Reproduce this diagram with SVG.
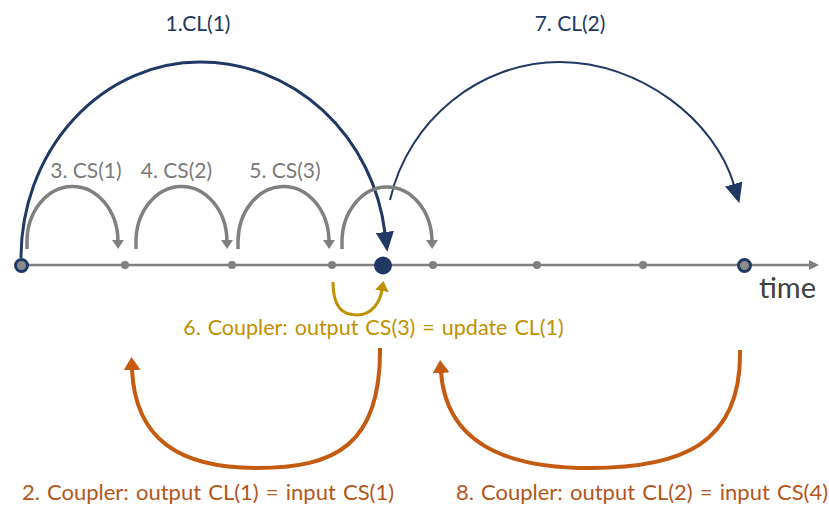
<svg xmlns="http://www.w3.org/2000/svg" width="829" height="506" viewBox="0 0 829 506">
  <style>
    .lbl { font-family: Lato, "Open Sans", "Liberation Sans", sans-serif; font-size: 21px; }
    .long { font-size: 21.5px; word-spacing: 1.5px; }
    .navy-t { fill: #203864; }
    .gray-t { fill: #7a7a7a; }
    .gold-t { fill: #BF9000; }
    .orange-t { fill: #B4561A; font-size: 22px; }
    .axis { stroke: #7f7f7f; stroke-width: 2.5; fill: none; }
    .cl { stroke: #203864; fill: none; }
    .cs { stroke: #808080; stroke-width: 3.5; fill: none; marker-end: url(#grayHead); }
    .upd { stroke: #BF9000; stroke-width: 3; fill: none; marker-end: url(#goldHead); }
    .cpl { stroke: #C55A11; stroke-width: 4; fill: none; marker-end: url(#orangeHead); }
    .dot { fill: #7f7f7f; }
    .ring { fill: #8c8c8c; stroke: #203864; stroke-width: 3; }
  </style>
  <defs>
    <marker id="navyHead" markerUnits="userSpaceOnUse" viewBox="0 0 20 18" markerWidth="20" markerHeight="18" refX="1" refY="9" orient="auto">
      <path d="M0,0 L20,9 L0,18 z" fill="#203864"/>
    </marker>
    <marker id="grayHead" markerUnits="userSpaceOnUse" viewBox="0 0 9 12" markerWidth="9" markerHeight="12" refX="1" refY="6" orient="auto">
      <path d="M0,0 L9,6 L0,12 z" fill="#808080"/>
    </marker>
    <marker id="goldHead" markerUnits="userSpaceOnUse" viewBox="0 0 10 14" markerWidth="10" markerHeight="14" refX="1" refY="7" orient="auto">
      <path d="M0,0 L10,7 L0,14 z" fill="#BF9000"/>
    </marker>
    <marker id="orangeHead" markerUnits="userSpaceOnUse" viewBox="0 0 13 17" markerWidth="13" markerHeight="17" refX="1" refY="8.5" orient="auto">
      <path d="M0,0 L13,8.5 L0,17 z" fill="#C55A11"/>
    </marker>
    <marker id="axisHead" markerUnits="userSpaceOnUse" viewBox="0 0 10 10" markerWidth="10" markerHeight="10" refX="1" refY="5" orient="auto">
      <path d="M0,0 L10,5 L0,10 z" fill="#7f7f7f"/>
    </marker>
  </defs>

  <!-- time axis -->
  <g id="axis">
    <line class="axis" x1="21" y1="265" x2="810" y2="265" marker-end="url(#axisHead)"/>
    <text class="lbl" x="759" y="298" style="font-size:29px" fill="#404040">time</text>
  </g>

  <g id="connectors">
    <!-- coarse steps -->
    <path class="cl" stroke-width="3" marker-end="url(#navyHead)" d="M21,258 A179,196 0 0 1 200,62 A186,196 0 0 1 385,233"/>
    <path class="cl" stroke-width="2" marker-end="url(#navyHead)" d="M390,200 C408,120 480,62 560,62 C640,62 715,120 734,185"/>
    <!-- fine steps -->
    <path class="cs" d="M27,249 V243 A45,55 0 0 1 118,241"/>
    <path class="cs" d="M136,249 V243 A45,55 0 0 1 227,241"/>
    <path class="cs" d="M238,249 V243 A45,55 0 0 1 329,241"/>
    <path class="cs" d="M342,249 V243 A45,55 0 0 1 432,241"/>
    <!-- coupler update -->
    <path class="upd" d="M333,282 C333,308 343,315 357,315 C372,315 380,302 382,290"/>
    <!-- coupler exchanges -->
    <path class="cpl" d="M380,348 C381,445 335,468 257,468 C180,468 135,440 132,369"/>
    <path class="cpl" d="M740,350 C742,445 680,468 590,468 C500,468 446,440 441,372"/>

    <text class="lbl navy-t" x="198" y="31" text-anchor="middle">1.CL(1)</text>
    <text class="lbl navy-t" x="570" y="31" text-anchor="middle">7. CL(2)</text>
    <text class="lbl gray-t" x="86" y="178" text-anchor="middle">3. CS(1)</text>
    <text class="lbl gray-t" x="176.5" y="178" text-anchor="middle">4. CS(2)</text>
    <text class="lbl gray-t" x="285" y="178" text-anchor="middle">5. CS(3)</text>
    <text class="lbl long gold-t" x="373.5" y="335" text-anchor="middle">6. Coupler: output CS(3) = update CL(1)</text>
    <text class="lbl long orange-t" x="208" y="500" text-anchor="middle">2. Coupler: output CL(1) = input CS(1)</text>
    <text class="lbl long orange-t" x="642" y="500" text-anchor="middle">8. Coupler: output CL(2) = input CS(4)</text>
  </g>

  <!-- time points -->
  <g id="t0"><circle class="ring" cx="21.5" cy="265.5" r="6"/></g>
  <g id="cs-1"><circle class="dot" cx="125" cy="265" r="4"/></g>
  <g id="cs-2"><circle class="dot" cx="232" cy="265" r="4"/></g>
  <g id="cs-3"><circle class="dot" cx="332" cy="265" r="4"/></g>
  <g id="cl-1"><circle cx="383" cy="265.5" r="9" fill="#203864"/></g>
  <g id="cs-4"><circle class="dot" cx="433" cy="265" r="4"/></g>
  <g id="cs-5"><circle class="dot" cx="537" cy="265" r="4"/></g>
  <g id="cs-6"><circle class="dot" cx="643" cy="265" r="4"/></g>
  <g id="cl-2"><circle class="ring" cx="744.5" cy="265.5" r="6"/></g>
</svg>
